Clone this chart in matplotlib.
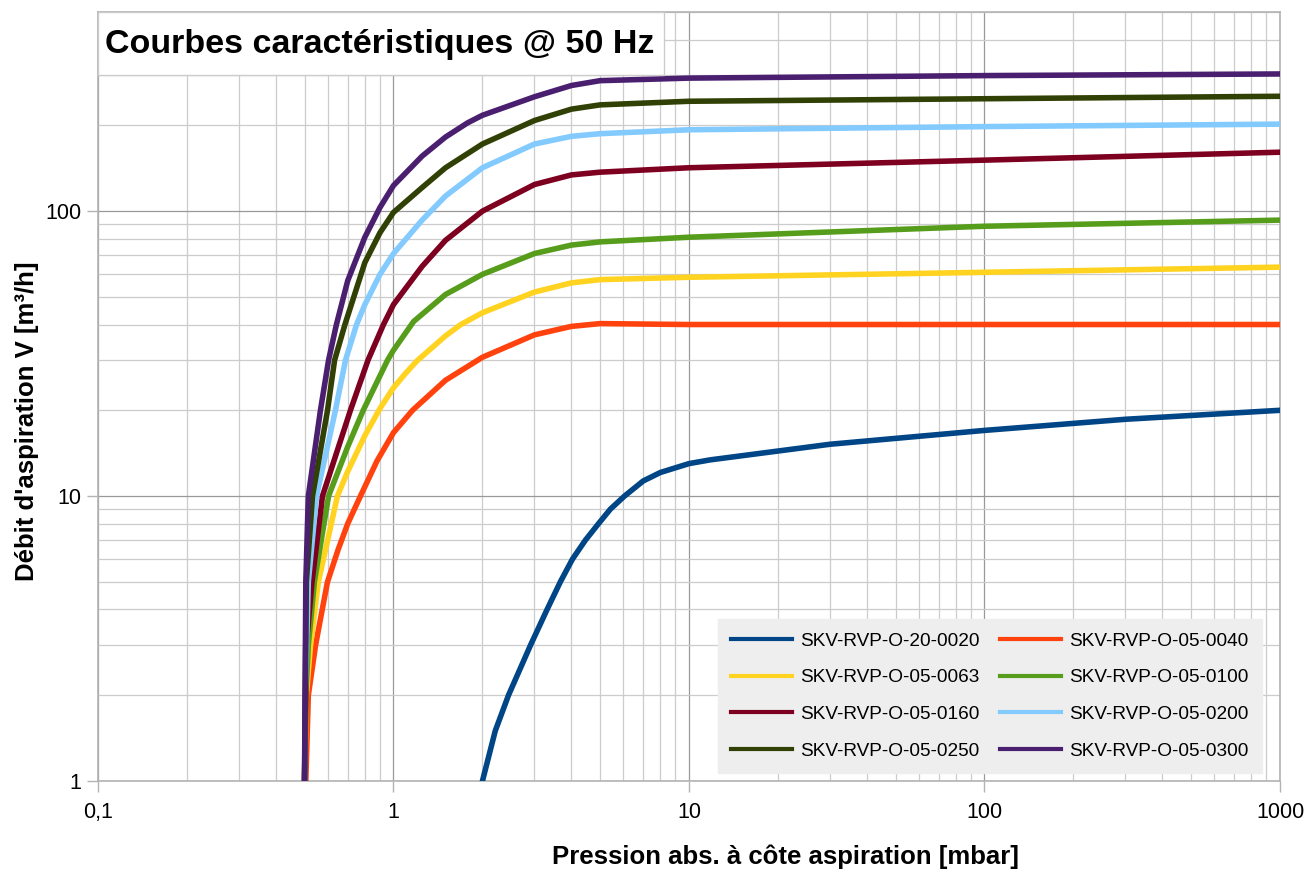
import matplotlib
matplotlib.use("Agg")
import matplotlib.pyplot as plt
from matplotlib.patches import Rectangle
from matplotlib.ticker import FixedLocator, FixedFormatter, LogLocator, NullFormatter


OUTPUT_PATH = "out.png"

TITLE = "Courbes caractéristiques @ 50 Hz"
X_LABEL = "Pression abs. à côte aspiration [mbar]"
Y_LABEL = "Débit d'aspiration V [m³/h]"

X_TICKS = [0.1, 1, 10, 100, 1000]
X_TICK_LABELS = ["0,1", "1", "10", "100", "1000"]
Y_TICKS = [1, 10, 100]
Y_TICK_LABELS = ["1", "10", "100"]

# Pump models (legend order, row by row in the original chart)
MODELS = [
    "SKV-RVP-O-20-0020",
    "SKV-RVP-O-05-0040",
    "SKV-RVP-O-05-0063",
    "SKV-RVP-O-05-0100",
    "SKV-RVP-O-05-0160",
    "SKV-RVP-O-05-0200",
    "SKV-RVP-O-05-0250",
    "SKV-RVP-O-05-0300",
]

COLORS = [
    "#004586",
    "#ff420e",
    "#ffd320",
    "#579d1c",
    "#7e0021",
    "#83caff",
    "#314004",
    "#4b1f6f",
]

# Pressure [mbar] / flow [m3/h] points
pressure_0020 = [2, 2.21, 2.45, 2.91, 3.31, 3.67, 4.03, 4.46, 4.94, 5.42, 6.05, 7, 8, 10, 11.8, 30, 100, 300, 1000]
flow_0020 = [1, 1.5, 2, 3, 4, 5, 6, 7, 8, 9, 10, 11.3, 12.1, 13, 13.4, 15.2, 17, 18.6, 20]

pressure_0040 = [0.505, 0.515, 0.545, 0.574, 0.598, 0.65, 0.7, 0.773, 0.88, 1.0, 1.16, 1.5, 2, 3, 4, 5, 10, 100, 1000]
flow_0040 = [1, 2, 3, 4, 5, 6.5, 8, 10, 13.3, 16.7, 20, 25.5, 30.7, 36.8, 39.4, 40.3, 40, 40, 40]

pressure_0063 = [0.5, 0.507, 0.524, 0.557, 0.646, 0.7, 0.8, 0.9, 1.0, 1.1, 1.2, 1.5, 1.69, 2, 3, 4, 5, 10, 100, 1000]
flow_0063 = [1, 2, 3, 5, 10, 12.2, 16.3, 20.3, 24, 27, 29.8, 36.5, 40, 44, 52, 56, 57.5, 58.6, 61, 63.6]

pressure_0100 = [0.5, 0.505, 0.515, 0.54, 0.603, 0.7, 0.79, 0.955, 1.0, 1.17, 1.5, 2, 3, 4, 5, 10, 100, 1000]
flow_0100 = [1, 2, 3, 5, 10, 14.9, 20, 30, 32.5, 41, 51, 60, 71, 76, 78, 81, 88.5, 93]

pressure_0160 = [0.5, 0.505, 0.507, 0.53, 0.575, 0.715, 0.82, 0.925, 1.0, 1.25, 1.5, 2, 3, 4, 5, 10, 100, 1000]
flow_0160 = [1, 2, 3, 5, 10, 20, 30, 40, 47, 64, 79, 100, 124, 134, 137, 142, 151, 161]

pressure_0200 = [0.5, 0.503, 0.515, 0.549, 0.636, 0.688, 0.75, 0.8, 0.9, 1.0, 1.25, 1.5, 2, 3, 4, 5, 10, 100, 1000]
flow_0200 = [1, 2, 5, 10, 20, 30, 40, 47, 60, 71, 93, 113, 142, 172, 183, 187, 193, 198, 202]

pressure_0250 = [0.5, 0.503, 0.507, 0.532, 0.598, 0.632, 0.685, 0.8, 0.9, 1.0, 1.25, 1.5, 2, 3, 4, 5, 10, 100, 1000]
flow_0250 = [1, 2, 5, 10, 20, 30, 40, 66, 84, 99, 121, 142, 172, 208, 228, 236, 243, 248, 253]

pressure_0300 = [0.5, 0.502, 0.505, 0.515, 0.566, 0.603, 0.641, 0.7, 0.8, 0.9, 1.0, 1.25, 1.5, 1.78, 2, 3, 4, 5, 10, 100, 1000]
flow_0300 = [1, 2, 5, 10, 20, 30, 40, 57, 81, 103, 123, 156, 182, 204, 217, 252, 276, 287, 293, 299, 303]

PRESSURES = [pressure_0020, pressure_0040, pressure_0063, pressure_0100,
             pressure_0160, pressure_0200, pressure_0250, pressure_0300]
FLOWS = [flow_0020, flow_0040, flow_0063, flow_0100,
         flow_0160, flow_0200, flow_0250, flow_0300]


def setup_axes(ax):
    """
    Log-log axes with LibreOffice-like grid and tick labels.
    """

    ax.set_xscale("log")
    ax.set_yscale("log")
    ax.set_xlim(0.1, 1000)
    ax.set_ylim(1, 500)

    ax.xaxis.set_major_locator(FixedLocator(X_TICKS))
    ax.xaxis.set_major_formatter(FixedFormatter(X_TICK_LABELS))
    ax.yaxis.set_major_locator(FixedLocator(Y_TICKS))
    ax.yaxis.set_major_formatter(FixedFormatter(Y_TICK_LABELS))

    ax.xaxis.set_minor_locator(LogLocator(base=10, subs=range(2, 10), numticks=20))
    ax.yaxis.set_minor_locator(LogLocator(base=10, subs=range(2, 10), numticks=20))
    ax.xaxis.set_minor_formatter(NullFormatter())
    ax.yaxis.set_minor_formatter(NullFormatter())

    ax.grid(which="major", color="#999999", linewidth=0.9)
    ax.grid(which="minor", color="#cccccc", linewidth=0.9)
    ax.set_axisbelow(True)

    ax.tick_params(which="major", direction="out", length=8, width=1,
                   color="#b3b3b3", labelsize=15.5, pad=4)
    ax.tick_params(axis="x", which="major", pad=7)
    ax.tick_params(which="minor", length=0)

    for side in ["left", "bottom", "right", "top"]:
        ax.spines[side].set_color("#b3b3b3")
        ax.spines[side].set_linewidth(1.2)

    # The original chart does not center the axis titles on the plot area
    ax.set_xlabel(X_LABEL, fontsize=18.5, fontweight="bold")
    ax.xaxis.set_label_coords(0.5816, -0.0988)
    ax.xaxis.label.set_va("center")

    ax.set_ylabel(Y_LABEL, fontsize=18.5, fontweight="bold")
    ax.yaxis.set_label_coords(-0.0600, 0.468)
    ax.yaxis.label.set_va("center")


def draw_title_box(ax):
    """
    White title box in the upper left corner of the plot area.
    """

    box = Rectangle((0.0, 0.918), 0.479, 0.082, transform=ax.transAxes,
                    facecolor="white", edgecolor="#cccccc", linewidth=1,
                    zorder=4)
    ax.add_patch(box)
    ax.text(0.006, 0.958, TITLE, transform=ax.transAxes, fontsize=24.5,
            fontweight="bold", ha="left", va="center", zorder=5)


def plot_curves():
    plt.rcParams["font.family"] = ["Liberation Sans", "DejaVu Sans"]

    fig = plt.figure(figsize=(13.1, 8.74), dpi=100)
    ax = fig.add_axes([0.0748, 0.1064, 0.9023, 0.8799])

    setup_axes(ax)

    handles = []
    for name, color, pressure, flow in zip(MODELS, COLORS, PRESSURES, FLOWS):
        line, = ax.plot(pressure, flow, color=color, linewidth=4,
                        solid_joinstyle="round", label=name, zorder=3)
        handles.append(line)

    draw_title_box(ax)

    # matplotlib fills legend columns first, so reorder to get row-wise layout
    order = [0, 2, 4, 6, 1, 3, 5, 7]
    legend = ax.legend(
        [handles[i] for i in order],
        [MODELS[i] for i in order],
        ncol=2,
        loc="lower right",
        bbox_to_anchor=(0.9848, 0.0104),
        borderaxespad=0,
        fontsize=13.7,
        frameon=True,
        fancybox=False,
        facecolor="#eeeeee",
        edgecolor="#eeeeee",
        framealpha=1,
        handlelength=3.2,
        handletextpad=0.45,
        columnspacing=1.05,
        labelspacing=1.02,
        borderpad=0.7,
    )
    for legend_line in legend.get_lines():
        legend_line.set_linewidth(3)
    legend.set_zorder(6)

    fig.savefig(OUTPUT_PATH, dpi=100)
    plt.close(fig)


if __name__ == "__main__":
    plot_curves()
